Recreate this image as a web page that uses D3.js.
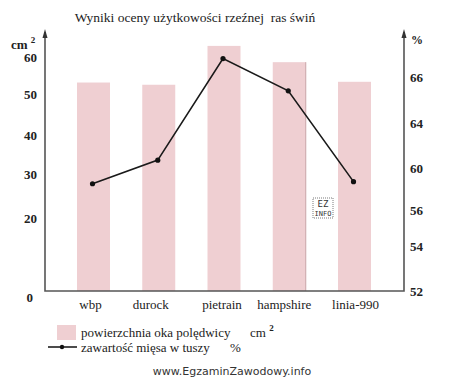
<!DOCTYPE html>
<html>
<head>
<meta charset="utf-8">
<script src="https://cdn.jsdelivr.net/npm/d3@7"></script>
<style>
  body { margin: 0; background: #fff; }
  text { font-family: "Liberation Serif", "DejaVu Serif", serif; }
</style>
</head>
<body>
<div id="chart"></div>
<script>
// data
const breeds = ["wbp", "durock", "pietrain", "hampshire", "linia-990"]
const loinArea = [53.1, 52.5, 63.0, 58.6, 53.3]      // cm2, bars
const meatShare = [58.5, 60.7, 66.8, 65.4, 58.7]     // %, line
const leftTicks = [0, 20, 30, 40, 50, 60]
const rightTicks = [52, 54, 56, 60, 64, 66]

const width = 450
const height = 378

const svg = d3.select("#chart")
    .append("svg")
    .attr("width", width)
    .attr("height", height)

const axisColor = "#555"
const xLeft = 45, xRight = 404, yBase = 291, yTop = 30

// x positions of the breeds
const x = d3.scalePoint()
    .domain(breeds)
    .range([93.5, 354.5])
const barW = 33

// the drawing is hand made, the axis spacing is uneven -> piecewise scales
const yL = d3.scaleLinear()
    .domain(leftTicks)
    .range([yBase, 218, 174, 135, 94, 57])
const yR = d3.scaleLinear()
    .domain(rightTicks)
    .range([yBase, 246, 210, 168, 123, 77])

// title
svg.append("text")
    .attr("x", 195)
    .attr("y", 22)
    .attr("text-anchor", "middle")
    .attr("font-size", 13.5)
    .attr("fill", "#222")
    .style("white-space", "pre")
    .text("Wyniki oceny użytkowości rzeźnej  ras świń")

// bars
svg.selectAll(".bar")
    .data(breeds)
    .join("rect")
    .attr("class", "bar")
    .attr("x", d => x(d) - barW / 2)
    .attr("y", (d, i) => yL(loinArea[i]))
    .attr("width", barW)
    .attr("height", (d, i) => yBase - yL(loinArea[i]))
    .attr("fill", "#efcfd2")

// darker right edge on hampshire bar
svg.append("line")
    .attr("x1", x("hampshire") + barW / 2).attr("x2", x("hampshire") + barW / 2)
    .attr("y1", yL(loinArea[3])).attr("y2", yBase)
    .attr("stroke", "#c9a4a7")
    .attr("stroke-width", 1)

// axes
const axes = svg.append("g")
    .attr("stroke", axisColor)
    .attr("stroke-width", 1.6)
    .attr("fill", "none")
axes.append("path").attr("d", `M${xLeft},${yTop + 2} V${yBase} H${xRight} V${yTop + 2}`)

// arrow heads
;[xLeft, xRight].forEach(ax => {
    svg.append("path")
        .attr("d", `M${ax},${yTop - 1} L${ax - 2.5},${yTop + 8} L${ax + 2.5},${yTop + 8} Z`)
        .attr("fill", "#333")
})

// left tick labels
svg.selectAll(".lt")
    .data(leftTicks)
    .join("text")
    .attr("class", "lt")
    .attr("x", d => d === 0 ? 33 : 37)
    .attr("y", d => yL(d) + (d === 0 ? 6 : 0))
    .attr("dy", "0.35em")
    .attr("text-anchor", "end")
    .attr("font-size", 13)
    .attr("font-weight", "bold")
    .attr("fill", "#222")
    .text(d => d)

// right tick labels
svg.selectAll(".rt")
    .data(rightTicks)
    .join("text")
    .attr("class", "rt")
    .attr("x", 410)
    .attr("y", d => yR(d))
    .attr("dy", "0.35em")
    .attr("font-size", 13)
    .attr("font-weight", "bold")
    .attr("fill", "#222")
    .text(d => d)

// axis unit labels
const cm = svg.append("text")
    .attr("x", 11)
    .attr("y", 49)
    .attr("font-size", 13)
    .attr("font-weight", "bold")
    .attr("fill", "#222")
cm.append("tspan").text("cm ")
cm.append("tspan").attr("dy", -6).attr("font-size", 9).text("2")

svg.append("text")
    .attr("x", 411)
    .attr("y", 44)
    .attr("font-size", 12)
    .attr("font-weight", "bold")
    .attr("fill", "#222")
    .text("%")

// category labels
svg.selectAll(".cat")
    .data(breeds)
    .join("text")
    .attr("class", "cat")
    .attr("x", (d, i) => x(d) + [-3, -8, -2, -5, 1][i])
    .attr("y", 309)
    .attr("text-anchor", "middle")
    .attr("font-size", 13)
    .attr("fill", "#222")
    .text(d => d)

// line
const line = d3.line()
    .x((d, i) => x(breeds[i]) - 1)
    .y(d => yR(d))
svg.append("path")
    .datum(meatShare)
    .attr("d", line)
    .attr("fill", "none")
    .attr("stroke", "#1a1a1a")
    .attr("stroke-width", 1.6)
svg.selectAll(".dot")
    .data(meatShare)
    .join("circle")
    .attr("class", "dot")
    .attr("cx", (d, i) => x(breeds[i]) - 1)
    .attr("cy", d => yR(d))
    .attr("r", 2.6)
    .attr("fill", "#111")

// EZ INFO stamp
const stamp = svg.append("g").attr("transform", "translate(313,198)")
stamp.append("rect")
    .attr("width", 20).attr("height", 20)
    .attr("fill", "#fff")
    .attr("stroke", "#444")
    .attr("stroke-width", 0.7)
    .attr("stroke-dasharray", "1,1")
stamp.append("text").attr("x", 10).attr("y", 9)
    .attr("text-anchor", "middle").attr("font-size", 9)
    .style("font-family", "DejaVu Sans Mono, monospace").attr("fill", "#333").text("EZ")
stamp.append("text").attr("x", 10).attr("y", 18)
    .attr("text-anchor", "middle").attr("font-size", 7)
    .style("font-family", "DejaVu Sans Mono, monospace").attr("fill", "#333").text("INFO")

// legend
const legend = svg.append("g")
legend.append("rect")
    .attr("x", 57).attr("y", 325)
    .attr("width", 19).attr("height", 15)
    .attr("fill", "#efcfd2")
const l1 = legend.append("text")
    .attr("x", 81).attr("y", 337)
    .attr("font-size", 13).attr("fill", "#222")
l1.append("tspan").text("powierzchnia oka polędwicy")
l1.append("tspan").attr("x", 250).text("cm ")
l1.append("tspan").attr("dy", -6).attr("font-size", 9).attr("font-weight", "bold").text("2")

legend.append("line")
    .attr("x1", 48).attr("x2", 77)
    .attr("y1", 347).attr("y2", 347)
    .attr("stroke", "#111").attr("stroke-width", 1.5)
legend.append("circle")
    .attr("cx", 62).attr("cy", 347).attr("r", 2.2).attr("fill", "#111")
const l2 = legend.append("text")
    .attr("x", 81).attr("y", 352)
    .attr("font-size", 13).attr("fill", "#222")
l2.append("tspan").text("zawartość mięsa w tuszy")
l2.append("tspan").attr("x", 230).text("%")

// watermark
svg.append("text")
    .attr("x", 232)
    .attr("y", 375)
    .attr("text-anchor", "middle")
    .attr("font-size", 11)
    .style("font-family", "'DejaVu Sans', sans-serif")
    .attr("fill", "#333")
    .text("www.EgzaminZawodowy.info")
</script>
</body>
</html>
